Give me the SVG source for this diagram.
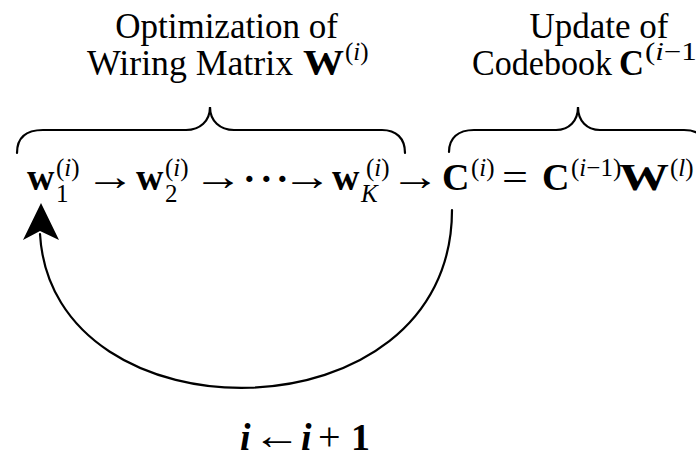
<svg xmlns="http://www.w3.org/2000/svg" width="696" height="453" viewBox="0 0 696 453">
<style>
text{font-family:"Liberation Serif","Times New Roman",serif;fill:#000}
.t{font-size:35px}
.m{font-size:38px;font-weight:bold}
.s{font-size:25px}
.it{font-style:italic}
.ar{font-size:40px;font-weight:normal}
.ln{fill:none;stroke:#000;stroke-width:2.2;stroke-linecap:round}
</style>
<rect width="696" height="453" fill="#fff"/>
<g id="label-optimization">
<text class="t" x="226.5" y="38" text-anchor="middle">Optimization of</text>
<text class="t" x="87" y="75" textLength="206" lengthAdjust="spacingAndGlyphs">Wiring Matrix</text>
<text class="t" x="303" y="75" font-weight="bold" textLength="41" lengthAdjust="spacingAndGlyphs">W</text>
<text class="s" x="345" y="60">(<tspan class="it">i</tspan>)</text>
</g>
<g id="label-update">
<text class="t" x="599" y="38" text-anchor="middle">Update of</text>
<text class="t" x="472" y="75" textLength="140" lengthAdjust="spacingAndGlyphs">Codebook</text>
<text class="t" x="619" y="75" font-weight="bold" textLength="25" lengthAdjust="spacingAndGlyphs">C</text>
<text class="s" x="645" y="60" textLength="62" lengthAdjust="spacingAndGlyphs">(<tspan class="it">i</tspan>−1)</text>
</g>
<g id="brace-optimization">
<path class="ln" d="M17,153 C17,138 26,130 43,130 L186,130 C200,130 210,121 210,107 C210,121 220,130 234,130 L382,130 C396,130 405,138 405,153"/>
</g>
<g id="brace-update">
<path class="ln" d="M449,152 C449,138 458,130 474,130 L556,130 C569,130 578,121 578,107 C578,121 587,130 600,130 L684,130 C699,130 707,138 707,153"/>
</g>
<g id="node-w1">
<text class="m" x="27" y="190">w</text>
<text class="s" x="56" y="176">(<tspan class="it">i</tspan>)</text>
<text class="s" x="56" y="202">1</text>
</g>
<g id="node-w2">
<text class="m" x="136" y="190">w</text>
<text class="s" x="165" y="176">(<tspan class="it">i</tspan>)</text>
<text class="s" x="165" y="202">2</text>
</g>
<g id="node-dots">
<text class="m" x="243 260 276" y="192">···</text>
</g>
<g id="node-wK">
<text class="m" x="332" y="190">w</text>
<text class="s" x="366" y="176">(<tspan class="it">i</tspan>)</text>
<text class="s it" x="361" y="202">K</text>
</g>
<g id="node-update">
<text class="m" x="442" y="190">C</text>
<text class="s" x="471" y="176">(<tspan class="it">i</tspan>)</text>
<text class="ar" transform="translate(502,191) scale(1.15,1)">=</text>
<text class="m" x="542" y="190">C</text>
<text class="s" x="571" y="176">(<tspan class="it">i</tspan>−1)</text>
<text class="m" x="619" y="190" textLength="50" lengthAdjust="spacingAndGlyphs">W</text>
<text class="s" x="670" y="176">(<tspan class="it">l</tspan>)</text>
</g>
<g id="connectors">
<text class="ar" transform="translate(85,190) scale(1.25,1)">→</text>
<text class="ar" transform="translate(193,190) scale(1.25,1)">→</text>
<text class="ar" transform="translate(282,190) scale(1.25,1)">→</text>
<text class="ar" transform="translate(390,190) scale(1.25,1)">→</text>
<path class="ln" d="M452,210 C452,442 52,444 40,234"/>
<polygon points="41,203 59,240 40,231 23,240" fill="#000"/>
</g>
<g id="label-increment">
<text class="m it" x="240" y="450" font-size="30">i</text>
<text class="ar" transform="translate(253,449) scale(1.2,1)">←</text>
<text class="m it" x="301" y="450" font-size="30">i</text>
<text class="ar" x="318" y="450">+</text>
<text class="m" x="351" y="450" font-size="30">1</text>
</g>
</svg>
